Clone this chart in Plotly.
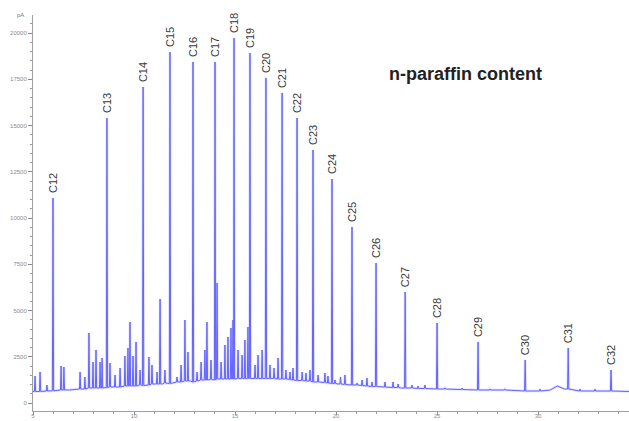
import plotly.graph_objects as go

# n-alkane peaks: retention time (min), apex signal (pA), signal at the peak foot (pA)
alkane_names = ["C12", "C13", "C14", "C15", "C16", "C17", "C18", "C19", "C20", "C21", "C22",
                "C23", "C24", "C25", "C26", "C27", "C28", "C29", "C30", "C31", "C32"]
alkane_time = [5.99, 8.66, 10.45, 11.78, 12.92, 14.01, 14.95, 15.74, 16.53, 17.33, 18.07,
               18.86, 19.80, 20.79, 21.98, 23.42, 25.00, 27.03, 29.36, 31.49, 33.61]
alkane_apex = [11081, 15405, 17081, 18973, 18432, 18432, 19730, 18919, 17568, 16757, 15405,
               13676, 12108, 9514, 7568, 6000, 4324, 3297, 2324, 2973, 1784]
alkane_foot = [660, 838, 946, 1054, 1135, 1243, 1297, 1324, 1324, 1297, 1216,
               1135, 1054, 973, 892, 811, 757, 703, 649, 757, 649]

# minor (branched / cyclic) components
minor_time = [5.10, 5.35, 5.69, 6.39, 6.53, 7.33, 7.57, 7.77, 7.97, 8.12, 8.32, 8.42,
              8.81, 9.06, 9.31, 9.55, 9.70, 9.80, 9.95, 10.10, 10.30, 10.74, 10.89, 11.14,
              11.29, 11.53, 12.13, 12.33, 12.52, 12.67, 13.12, 13.32, 13.51, 13.61, 13.81,
              14.11, 14.31, 14.50, 14.65, 14.80, 14.90, 15.15, 15.35, 15.49, 15.64, 15.99,
              16.14, 16.34, 16.73, 16.93, 17.13, 17.52, 17.72, 17.87, 18.32, 18.51, 18.71,
              19.11, 19.45, 19.60, 19.95, 20.22, 20.44, 21.04, 21.29, 21.53, 21.78, 22.42,
              22.82, 23.07, 23.76, 24.06, 24.40, 25.39, 26.24, 27.62, 28.36, 30.10, 32.08,
              32.82]
minor_apex = [1459, 1676, 973, 2000, 1946, 1676, 1405, 3784, 2216, 2865, 2216, 2432,
              2162, 1513, 1892, 2540, 2973, 4378, 2540, 3297, 1784, 2486, 2054, 1676,
              5621, 1784, 1405, 2054, 4486, 2757, 1676, 2216, 2865, 4378, 2324,
              6486, 2216, 3135, 3567, 4054, 4486, 2865, 2594, 3405, 4108, 2054,
              2594, 2865, 2054, 1892, 2432, 1784, 1676, 1892, 1676, 1622, 1784,
              1513, 1622, 1459, 1243, 1405, 1513, 1081, 1243, 1351, 1135, 1135,
              1135, 1027, 973, 919, 973, 811, 811, 757, 757, 757, 757,
              757]
minor_foot = [622, 622, 649, 703, 703, 757, 757, 811, 811, 811, 811, 811,
              865, 865, 865, 919, 919, 919, 919, 919, 973, 973, 1027, 1027,
              1027, 1081, 1135, 1135, 1189, 1189, 1189, 1243, 1243, 1243, 1270,
              1297, 1297, 1297, 1297, 1297, 1297, 1324, 1324, 1324, 1324, 1324,
              1324, 1324, 1324, 1324, 1297, 1297, 1270, 1243, 1216, 1189, 1189,
              1135, 1108, 1081, 1054, 1027, 1000, 973, 946, 919, 892, 865,
              838, 838, 811, 784, 784, 757, 730, 703, 703, 649, 649,
              649]

# baseline drift between peaks
base_time = [5.00, 5.59, 6.80, 8.22, 9.88, 11.40, 12.80, 14.40, 15.70, 17.20, 18.60,
             20.10, 21.70, 23.20, 25.20, 27.10, 29.10, 30.60, 30.95, 31.30, 33.10, 34.50]
base_level = [622, 649, 703, 811, 919, 1027, 1189, 1297, 1351, 1297, 1189,
              1027, 919, 811, 757, 703, 649, 703, 919, 757, 649, 622]

y_ticks = [0, 2500, 5000, 7500, 10000, 12500, 15000, 17500, 20000]
x_ticks = [5, 10, 15, 20, 25, 30]

# assemble the detector trace: baseline samples plus a narrow spike per peak
half_width = 0.03
pts = list(zip(base_time, base_level))
for times, apex, foot in ((alkane_time, alkane_apex, alkane_foot),
                          (minor_time, minor_apex, minor_foot)):
    for t, a, f in zip(times, apex, foot):
        pts += [(t - half_width, f), (t, a), (t + half_width, f)]
pts.sort(key=lambda p: p[0])
trace_t = [p[0] for p in pts]
trace_v = [p[1] for p in pts]

fig = go.Figure()
# soft halo under the trace, then the trace itself
fig.add_trace(go.Scatter(
    x=trace_t, y=trace_v, mode="lines",
    line=dict(color="rgba(130,130,255,0.25)", width=2.6),
    hoverinfo="skip", showlegend=False,
))
fig.add_trace(go.Scatter(
    x=trace_t, y=trace_v, mode="lines",
    line=dict(color="rgb(80,80,255)", width=1),
    opacity=0.85, hoverinfo="skip", showlegend=False,
))

label_font = dict(family="Liberation Sans, Arial, sans-serif", size=11, color="#3a3a3a")
for name, t, a in zip(alkane_names, alkane_time, alkane_apex):
    fig.add_annotation(x=t, y=a, text=name, textangle=-90, showarrow=False,
                       xanchor="center", yanchor="bottom", yshift=3, font=label_font)

fig.add_annotation(x=0.7265, y=0.851, xref="paper", yref="paper",
                   text="<b>n-paraffin content</b>", showarrow=False,
                   xanchor="center", yanchor="middle",
                   font=dict(family="Liberation Sans, Arial, sans-serif", size=18, color="#222222"))
fig.add_annotation(x=-0.012, y=1.0, xref="paper", yref="paper", text="pA", showarrow=False,
                   xanchor="right", yanchor="middle",
                   font=dict(family="Liberation Sans, Arial, sans-serif", size=6, color="#777777"))

fig.update_layout(
    width=629, height=421,
    margin=dict(l=33, r=0, t=15, b=10),
    paper_bgcolor="white", plot_bgcolor="white",
    xaxis=dict(
        range=[5, 34.5], tickvals=x_ticks, ticktext=[str(v) for v in x_ticks],
        automargin=False,
        showgrid=False, zeroline=False, showline=True, linecolor="#a0a0a0", linewidth=1,
        ticks="outside", ticklen=3, tickcolor="#8a8a8a", ticklabelstandoff=-4,
        minor=dict(dtick=1, ticks="outside", ticklen=2, tickcolor="#9a9a9a"),
        tickfont=dict(family="Liberation Sans, Arial, sans-serif", size=6, color="#8a8a8a"),
    ),
    yaxis=dict(
        range=[-432, 20973], tickvals=y_ticks, ticktext=[str(v) for v in y_ticks],
        automargin=False,
        showgrid=False, zeroline=False, showline=True, linecolor="#a0a0a0", linewidth=1,
        ticks="outside", ticklen=4, tickcolor="#8a8a8a",
        minor=dict(dtick=500, ticks="outside", ticklen=2, tickcolor="#9a9a9a"),
        tickfont=dict(family="Liberation Sans, Arial, sans-serif", size=6, color="#8a8a8a"),
    ),
)

fig.write_html("out.html")
